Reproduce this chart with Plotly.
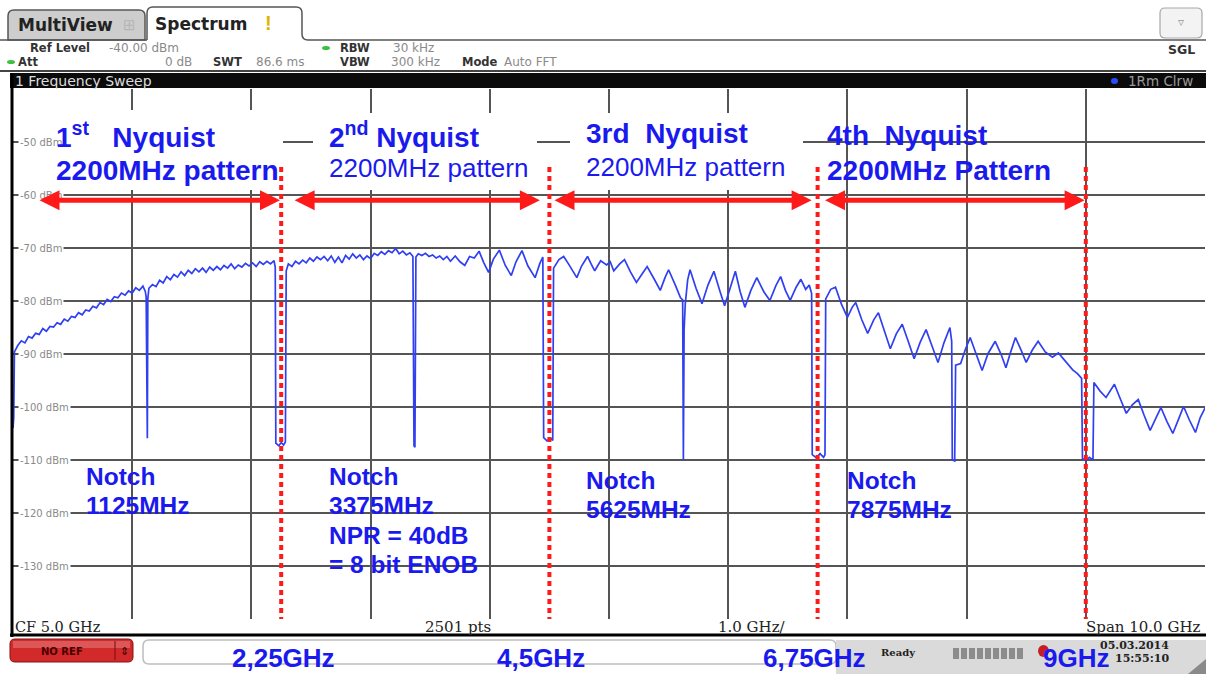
import plotly.graph_objects as go

# ---------------- data ----------------
freq_ghz = [
    0.000, 0.006, 0.012, 0.04, 0.07, 0.10, 0.13, 0.16, 0.19, 0.22, 0.25, 0.28, 0.31, 0.34, 0.37, 0.40,
    0.43, 0.46, 0.49, 0.52, 0.55, 0.58, 0.61, 0.64, 0.67, 0.70, 0.73, 0.76, 0.79, 0.82, 0.85, 0.88,
    0.91, 0.94, 0.97, 1.00, 1.03, 1.06, 1.09, 1.11, 1.117, 1.121, 1.127, 1.131, 1.14, 1.17, 1.20, 1.23,
    1.26, 1.29, 1.32, 1.35, 1.38, 1.41, 1.44, 1.47, 1.50, 1.53, 1.56, 1.59, 1.62, 1.65, 1.68, 1.71,
    1.74, 1.77, 1.80, 1.83, 1.86, 1.89, 1.92, 1.95, 1.98, 2.01, 2.04, 2.07, 2.10, 2.13, 2.16, 2.19,
    2.20, 2.205, 2.23, 2.25, 2.27, 2.285, 2.292, 2.31, 2.34, 2.37, 2.40, 2.43, 2.46, 2.49, 2.52, 2.55,
    2.58, 2.61, 2.64, 2.67, 2.70, 2.73, 2.76, 2.79, 2.82, 2.85, 2.88, 2.91, 2.94, 2.97, 3.00, 3.03,
    3.06, 3.09, 3.12, 3.15, 3.18, 3.21, 3.24, 3.27, 3.30, 3.33, 3.355, 3.364, 3.372, 3.38, 3.40, 3.43,
    3.46, 3.49, 3.52, 3.55, 3.58, 3.61, 3.64, 3.67, 3.71, 3.75, 3.79, 3.83, 3.87, 3.91, 3.95, 3.99,
    4.03, 4.08, 4.13, 4.18, 4.22, 4.27, 4.32, 4.38, 4.42, 4.445, 4.452, 4.48, 4.51, 4.528, 4.535, 4.58,
    4.62, 4.66, 4.70, 4.73, 4.77, 4.82, 4.85, 4.88, 4.93, 4.98, 5.01, 5.04, 5.09, 5.13, 5.18, 5.23,
    5.28, 5.32, 5.38, 5.43, 5.47, 5.50, 5.56, 5.60, 5.618, 5.624, 5.630, 5.640, 5.66, 5.68, 5.73, 5.78,
    5.83, 5.88, 5.93, 5.97, 6.02, 6.06, 6.10, 6.14, 6.19, 6.24, 6.30, 6.35, 6.40, 6.44, 6.48, 6.52,
    6.57, 6.61, 6.65, 6.68, 6.700, 6.705, 6.74, 6.77, 6.80, 6.812, 6.818, 6.86, 6.90, 6.95, 7.00, 7.04,
    7.07, 7.12, 7.17, 7.22, 7.26, 7.31, 7.36, 7.41, 7.46, 7.51, 7.56, 7.61, 7.66, 7.71, 7.76, 7.81,
    7.86, 7.875, 7.880, 7.900, 7.908, 7.95, 7.99, 8.03, 8.08, 8.13, 8.18, 8.24, 8.29, 8.33, 8.37, 8.41,
    8.46, 8.50, 8.55, 8.60, 8.66, 8.72, 8.77, 8.81, 8.85, 8.89, 8.93, 8.965, 8.972, 9.00, 9.03, 9.06,
    9.068, 9.12, 9.17, 9.24, 9.29, 9.34, 9.39, 9.44, 9.49, 9.54, 9.59, 9.63, 9.68, 9.73, 9.78, 9.82,
    9.87, 9.92, 9.96, 10.0,
]
level_dbm = [
    -104.0, -102.0, -89.6, -88.4, -87.5, -87.9, -86.7, -87.0, -86.1, -86.3, -85.2, -85.7, -84.8, -84.9, -84.1, -84.4,
    -83.4, -83.8, -82.9, -83.1, -82.2, -82.6, -81.7, -81.9, -81.0, -81.3, -80.3, -80.7, -79.7, -80.1, -79.2, -79.4,
    -78.5, -78.9, -78.1, -78.5, -77.5, -78.0, -77.2, -78.2, -79.2, -105.7, -105.9, -79.6, -77.6, -76.9, -77.3, -76.1,
    -76.6, -75.4, -76.0, -75.0, -75.5, -74.5, -75.2, -74.2, -74.8, -73.9, -74.5, -73.8, -74.6, -73.6, -74.2, -73.5,
    -74.1, -73.3, -73.8, -73.0, -73.9, -73.2, -73.6, -72.9, -73.4, -72.8, -73.5, -72.6, -73.1, -72.5, -73.0, -72.4,
    -73.6, -106.8, -107.3, -106.7, -107.2, -106.6, -74.3, -73.0, -73.5, -72.5, -73.0, -72.3, -72.8, -71.9, -72.5, -71.7,
    -72.2, -71.6, -72.4, -71.5, -72.7, -71.7, -72.8, -71.4, -72.1, -71.1, -71.9, -71.3, -72.2, -71.5, -72.0, -71.0,
    -71.4, -70.7, -71.2, -70.5, -70.9, -70.1, -71.1, -70.6, -71.3, -70.9, -71.6, -107.3, -107.6, -71.7, -71.1, -71.4,
    -71.0, -71.6, -71.3, -71.9, -71.5, -72.2, -71.6, -72.5, -71.5, -72.6, -73.3, -71.6, -71.9, -70.6, -72.8, -74.6,
    -72.1, -70.4, -73.3, -75.2, -72.6, -70.5, -73.4, -75.6, -72.9, -71.7, -105.8, -106.4, -105.9, -106.3, -73.8, -72.2,
    -71.6, -73.0, -74.4, -75.6, -73.4, -71.6, -73.0, -74.3, -72.4, -73.2, -72.6, -74.3, -73.0, -72.2, -74.5, -76.5,
    -74.8, -73.5, -75.9, -78.0, -75.6, -74.1, -77.2, -79.4, -79.8, -110.0, -85.5, -80.5, -76.0, -74.1, -77.6, -80.5,
    -77.0, -74.4, -78.1, -80.9, -77.3, -74.4, -78.2, -81.2, -78.0, -75.6, -78.3, -79.9, -77.1, -75.4, -78.0, -79.9,
    -77.4, -75.9, -77.8, -77.0, -78.6, -109.0, -109.6, -108.8, -109.5, -109.0, -79.6, -77.8, -77.4, -80.6, -83.1, -81.2,
    -80.3, -83.5, -86.1, -83.6, -82.2, -85.6, -89.0, -86.2, -84.4, -87.6, -90.9, -87.8, -85.4, -88.5, -91.6, -87.9,
    -85.0, -87.6, -110.0, -110.2, -92.1, -91.8, -89.1, -86.9, -90.2, -93.1, -89.9, -87.6, -90.1, -92.6, -89.6, -86.9,
    -89.4, -91.6, -89.3, -87.6, -89.6, -90.6, -89.8, -90.9, -92.1, -93.0, -93.7, -94.6, -109.7, -110.1, -109.5, -110.0,
    -95.4, -97.0, -98.2, -95.7, -98.5, -101.2, -99.6, -98.6, -101.6, -104.4, -102.0, -100.1, -102.7, -105.0, -102.2, -99.9,
    -102.5, -104.8, -102.0, -100.2,
]

grid_levels_dbm = [-50, -60, -70, -80, -90, -100, -110, -120, -130]
nyquist_edges_ghz = [2.25, 4.5, 6.75, 9.0]
edge_labels = ["2,25GHz", "4,5GHz", "6,75GHz", "9GHz"]
zone_titles = ["1<sup>st</sup>   Nyquist", "2<sup>nd</sup> Nyquist", "3rd  Nyquist", "4th  Nyquist"]
zone_subtitles = ["2200MHz pattern", "2200MHz pattern", "2200MHz pattern", "2200MHz Pattern"]
arrow_spans_ghz = [(0.21, 2.24), (2.35, 4.42), (4.53, 6.70), (6.80, 8.99)]
arrow_level_dbm = -61
notch_notes = [["Notch", "1125MHz"],
               ["Notch", "3375MHz", "NPR = 40dB", "= 8 bit ENOB"],
               ["Notch", "5625MHz"],
               ["Notch", "7875MHz"]]

# ---------------- geometry helpers (pixel -> paper) ----------------
W, H = 1206, 674
L, R, T, B = 13, 1, 89, 55
PW, PH = W - L - R, H - T - B


def P(x, y):
    return (x - L) / PW, (H - B - y) / PH


shapes = []
ann = []

SANS = "DejaVu Sans, Verdana, sans-serif"
SERIF = "DejaVu Serif, serif"
ARIAL = "Liberation Sans, Arial, sans-serif"
BLUE = "#1a1aee"


def path_px(cmds):
    out = []
    for c in cmds:
        if isinstance(c, str):
            out.append(c)
        else:
            a, b = P(*c)
            out.append(f"{a:.5f},{b:.5f}")
    return " ".join(out)


def rrect(x0, y0, x1, y1, r, fill, line="rgba(0,0,0,0)", lw=0):
    cmds = ["M", (x0 + r, y0), "L", (x1 - r, y0), "Q", (x1, y0), (x1, y0 + r),
            "L", (x1, y1 - r), "Q", (x1, y1), (x1 - r, y1), "L", (x0 + r, y1),
            "Q", (x0, y1), (x0, y1 - r), "L", (x0, y0 + r), "Q", (x0, y0), (x0 + r, y0), "Z"]
    shapes.append(dict(type="path", xref="paper", yref="paper", path=path_px(cmds),
                       fillcolor=fill, line=dict(color=line, width=lw), layer="above"))


def rect(x0, y0, x1, y1, fill, line=None, lw=0):
    a, b = P(x0, y1)
    c, d = P(x1, y0)
    shapes.append(dict(type="rect", xref="paper", yref="paper", x0=a, y0=b, x1=c, y1=d,
                       fillcolor=fill, line=dict(color=line or fill, width=lw), layer="above"))


def hline(x0, x1, y, color, width):
    a, b = P(x0, y)
    c, _ = P(x1, y)
    shapes.append(dict(type="line", xref="paper", yref="paper", x0=a, y0=b, x1=c, y1=b,
                       line=dict(color=color, width=width), layer="above"))


def vline(x, y0, y1, color, width):
    a, b = P(x, y0)
    _, d = P(x, y1)
    shapes.append(dict(type="line", xref="paper", yref="paper", x0=a, y0=b, x1=a, y1=d,
                       line=dict(color=color, width=width), layer="above"))


def text(x, y, s, size, color, family, bold=False, xanchor="left", yanchor="middle", bg=None):
    a, b = P(x, y)
    ann.append(dict(xref="paper", yref="paper", x=a, y=b, text=f"<b>{s}</b>" if bold else s,
                    showarrow=False, xanchor=xanchor, yanchor=yanchor, borderpad=0,
                    font=dict(size=size, color=color, family=family), bgcolor=bg))


# ---------------- instrument chrome: header ----------------
shapes.append(dict(type="path", xref="paper", yref="paper",
                   path=path_px(["M", (8, 40), "L", (8, 16), "Q", (8, 10), (14, 10), "L", (139, 10),
                                 "Q", (145, 10), (145, 16), "L", (145, 40), "Z"]),
                   fillcolor="#cdcdcd", line=dict(color="#555", width=1.5), layer="above"))
hline(0, 147, 40, "#555", 1.5)
shapes.append(dict(type="path", xref="paper", yref="paper",
                   path=path_px(["M", (147, 40), "L", (147, 13), "Q", (147, 7), (153, 7), "L", (296, 7),
                                 "Q", (302, 7), (302, 13), "L", (302, 34), "Q", (302, 40), (308, 40),
                                 "L", (1206, 40)]),
                   fillcolor="rgba(0,0,0,0)", line=dict(color="#555", width=1.5), layer="above"))
text(17, 25, "MultiView", 17, "#222", SANS, bold=True)
text(129, 25, "⊞", 15, "#b5b5b5", SANS, xanchor="center")
text(154, 24, "Spectrum", 17, "#222", SANS, bold=True)
text(268, 23, "!", 20, "#e2b400", ARIAL, bold=True, xanchor="center")
rrect(1160, 8, 1202, 38, 5, "#f3f3f3", "#a8a8a8", 1.2)
text(1181, 22, "▿", 12, "#9a9a9a", SANS, xanchor="center")

INFO = 11.5
text(29, 48, "Ref Level", INFO, "#333", SANS, bold=True)
text(108, 48, "-40.00 dBm", INFO + 0.5, "#8a8a8a", SANS)
text(17, 62, "Att", INFO, "#333", SANS, bold=True)
text(193, 62, "0 dB", INFO + 0.5, "#8a8a8a", SANS, xanchor="right")
text(212, 62, "SWT", INFO, "#333", SANS, bold=True)
text(255, 62, "86.6 ms", INFO + 0.5, "#8a8a8a", SANS)
text(339, 48, "RBW", INFO, "#333", SANS, bold=True)
text(392, 48, "30 kHz", INFO + 0.5, "#8a8a8a", SANS)
text(339, 62, "VBW", INFO, "#333", SANS, bold=True)
text(390, 62, "300 kHz", INFO + 0.5, "#8a8a8a", SANS)
text(461, 62, "Mode", INFO, "#333", SANS, bold=True)
text(503, 62, "Auto FFT", INFO + 0.5, "#8a8a8a", SANS)
text(1196, 50, "SGL", 12.5, "#333", SANS, bold=True, xanchor="right")
for gx, gy in [(11, 62), (326, 48)]:
    a, b = P(gx - 4, gy + 2)
    c, d = P(gx + 4, gy - 2)
    shapes.append(dict(type="circle", xref="paper", yref="paper", x0=a, y0=b, x1=c, y1=d,
                       fillcolor="#3fbf3f", line=dict(width=0), layer="above"))

hline(0, 1206, 71, "#444", 2)
rect(10, 73, 1206, 88, "#0b0b0b")
text(14, 81, "1 Frequency Sweep", 14, "#dddddd", SANS)
text(1194, 81, "1Rm Clrw", 13.5, "#9a9a9a", SANS, xanchor="right")
a, b = P(1111, 84)
c, d = P(1118, 78)
shapes.append(dict(type="circle", xref="paper", yref="paper", x0=a, y0=b, x1=c, y1=d,
                   fillcolor="#2a4cff", line=dict(width=0), layer="above"))

# ---------------- bottom chrome ----------------
vline(12, 73, 637, "#000", 3)
hline(10, 1206, 635, "#000", 3)
text(14, 627, "CF 5.0 GHz", 14.5, "#222", SERIF)
text(424, 627, "2501 pts", 15, "#222", SERIF)
text(717, 627, "1.0 GHz/", 15, "#222", SERIF)
text(1201, 627, "Span 10.0 GHz", 15, "#222", SERIF, xanchor="right")

rrect(10, 639, 133, 662, 5, "#d22a2a", "#8a1010", 1)
rect(13, 641, 130, 648, "rgba(255,255,255,0.22)")
vline(115, 641, 660, "#7a0a0a", 1)
text(62, 651, "NO REF", 10, "#4a0000", SANS, bold=True, xanchor="center")
text(124, 651, "⇕", 11, "#3a0000", SANS, xanchor="center")
rrect(143, 640, 836, 664, 6, "#ffffff", "#bdbdbd", 1.5)
rect(836, 640, 1206, 674, "#dadada")
text(880, 652, "Ready", 10, "#222", SERIF, bold=True)
for i in range(9):
    rect(953 + i * 8, 648, 959 + i * 8, 659, "#8c8c8c")
a, b = P(1038, 657)
c, d = P(1049, 645)
shapes.append(dict(type="circle", xref="paper", yref="paper", x0=a, y0=b, x1=c, y1=d,
                   fillcolor="#c42020", line=dict(width=0), layer="above"))
text(1099, 645, "05.03.2014", 11, "#222", SERIF, bold=True)
text(1114, 658, "15:55:10", 11, "#222", SERIF, bold=True)
shapes.append(dict(type="path", xref="paper", yref="paper",
                   path=path_px(["M", (1188, 674), "L", (1206, 659), "L", (1206, 674), "Z"]),
                   fillcolor="#8a8a8a", line=dict(width=0), layer="above"))

# ---------------- in-plot annotations ----------------
for box in [(40, 110, 283, 190), (313, 113, 537, 190), (570, 113, 803, 190)]:
    rect(*box, "#ffffff")

for lvl in grid_levels_dbm:
    a, _ = P(18, 0)
    ann.append(dict(xref="paper", yref="y", x=a, y=lvl, text=f"{lvl} dBm", showarrow=False,
                    xanchor="left", yanchor="middle", borderpad=1, bgcolor="#ffffff",
                    font=dict(size=10, color="#8a8a8a", family=SANS)))

for edge in nyquist_edges_ghz:
    shapes.append(dict(type="line", xref="x", yref="y", x0=edge, x1=edge, y0=-54.7, y1=-140,
                       line=dict(color="#ff1a1a", width=4, dash="5px,4px"), layer="above"))

for f0, f1 in arrow_spans_ghz:
    ann.append(dict(xref="x", yref="y", axref="x", ayref="y", x=f1, y=arrow_level_dbm,
                    ax=f0, ay=arrow_level_dbm, text="", showarrow=True, arrowside="end+start",
                    arrowhead=2, startarrowhead=2, arrowsize=0.8, startarrowsize=0.8,
                    arrowwidth=5, arrowcolor="#ff1a1a", standoff=0, startstandoff=0))

title_x = [55, 328, 585, 826]
title_y = [135, 135, 133, 135]
sub_y = [170, 168, 167, 170]
sub_bold = [True, False, False, True]
for i in range(4):
    text(title_x[i], title_y[i], zone_titles[i], 28, BLUE, ARIAL, bold=True)
    text(title_x[i], sub_y[i], zone_subtitles[i], 28 if sub_bold[i] else 26, BLUE, ARIAL, bold=sub_bold[i])

note_x = [85, 328, 585, 846]
note_y = [476, 476, 480, 480]
for i, lines in enumerate(notch_notes):
    for j, line in enumerate(lines):
        text(note_x[i], note_y[i] + j * 29.5, line, 24.5, BLUE, ARIAL, bold=True)

label_shift = [2, -8, -3, -10]
for edge, lab, sh in zip(nyquist_edges_ghz, edge_labels, label_shift):
    _, b = P(0, 674)
    ann.append(dict(xref="x", yref="paper", x=edge, y=b, xshift=sh, text=f"<b>{lab}</b>",
                    showarrow=False, xanchor="center", yanchor="bottom", borderpad=0,
                    font=dict(size=26, color=BLUE, family=ARIAL)))

# ---------------- figure ----------------
fig = go.Figure()
fig.add_trace(go.Scatter(x=freq_ghz, y=level_dbm, mode="lines",
                         line=dict(color="#3040f0", width=1.7), hoverinfo="skip"))

fig.update_layout(
    width=W, height=H,
    margin=dict(l=L, r=R, t=T, b=B, pad=0),
    paper_bgcolor="#ffffff", plot_bgcolor="#ffffff",
    showlegend=False,
    xaxis=dict(range=[0, 10], tick0=0, dtick=1, showgrid=True, gridcolor="#555555", gridwidth=1.6,
               zeroline=False, showticklabels=False, ticks="", showline=False, fixedrange=True),
    yaxis=dict(range=[-140, -40], tick0=-140, dtick=10, showgrid=True, gridcolor="#555555", gridwidth=1.6,
               zeroline=False, showticklabels=False, ticks="", showline=False, fixedrange=True),
    shapes=shapes,
    annotations=ann,
)

fig.write_html("out.html", config={"displayModeBar": False},
               post_script="document.body.style.margin='0';")
